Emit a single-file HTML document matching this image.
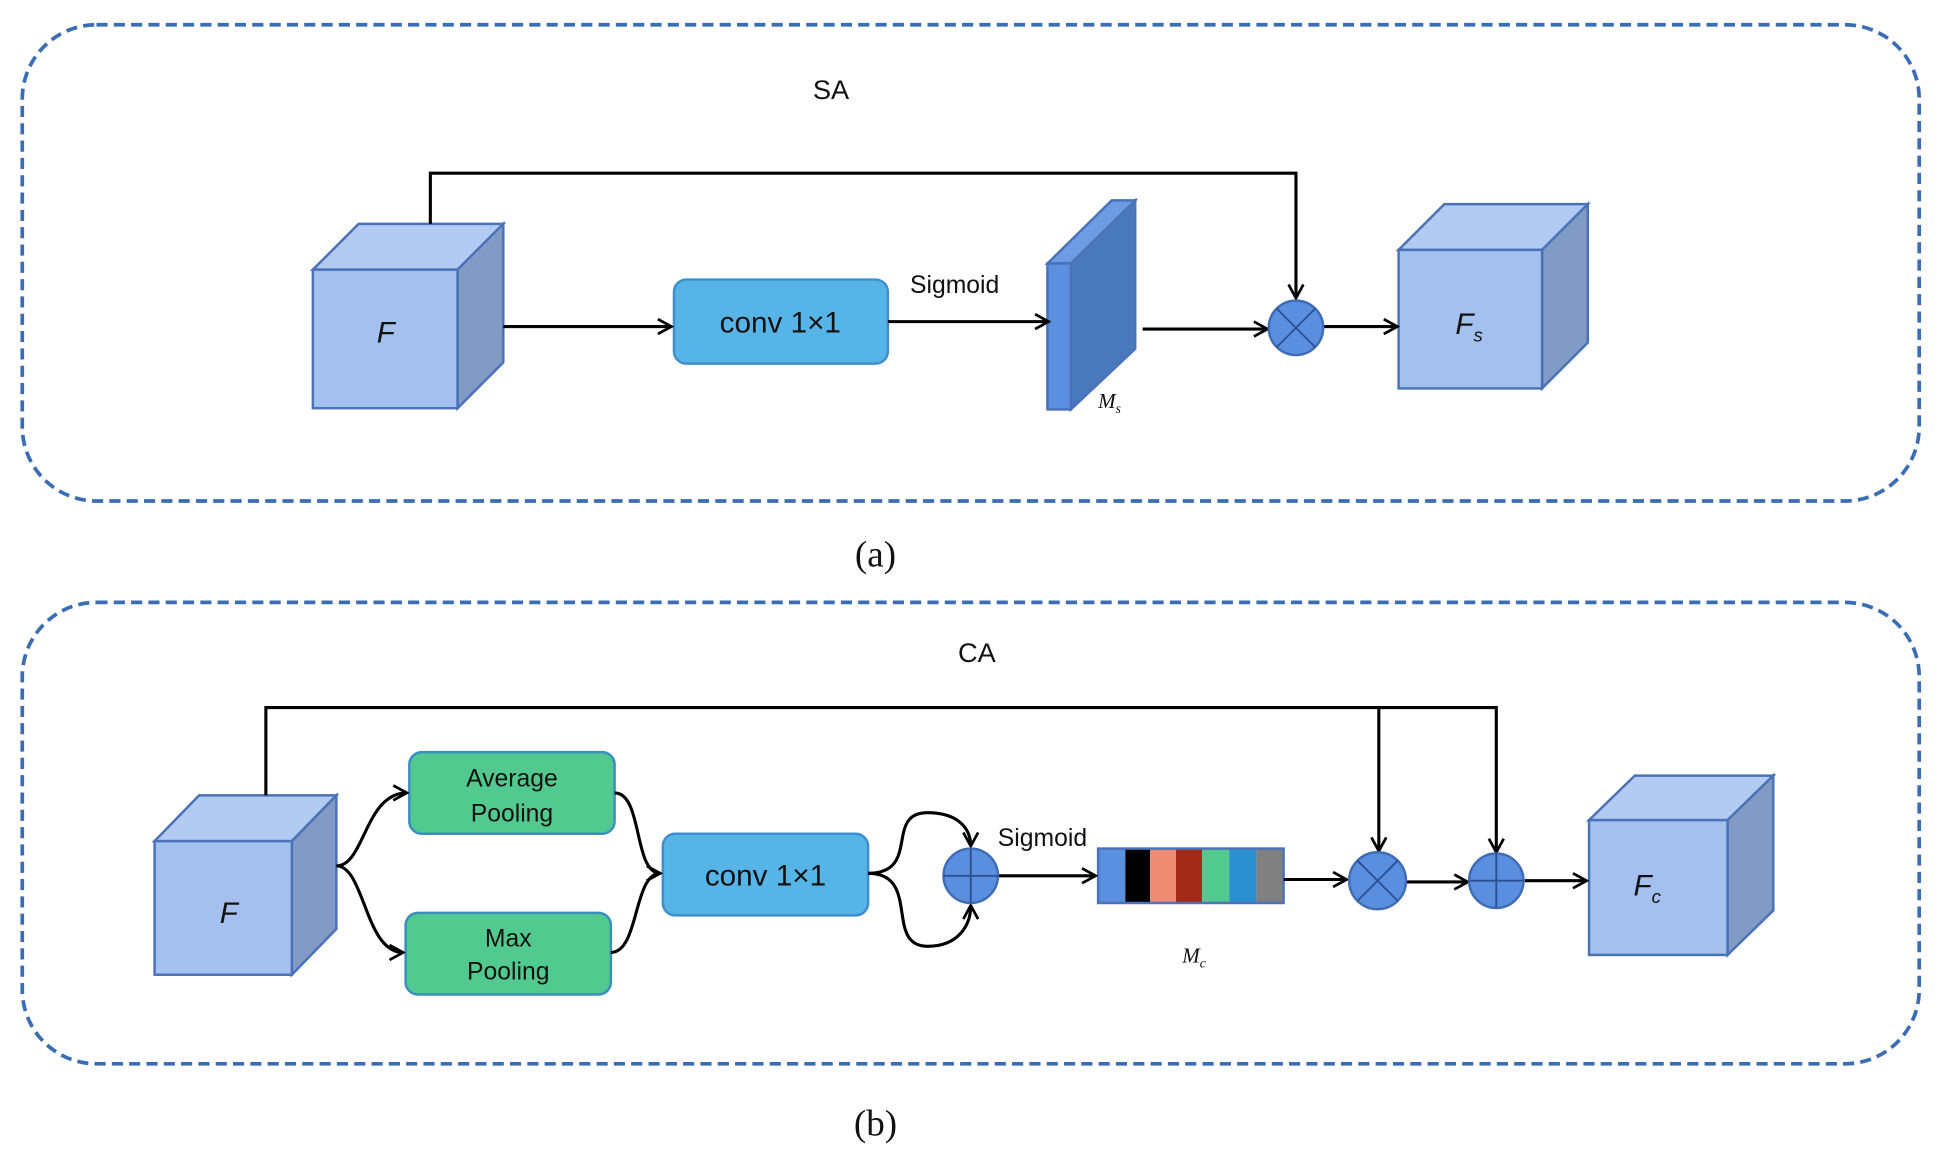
<!DOCTYPE html>
<html><head><meta charset="utf-8"><style>html,body{margin:0;padding:0;background:#fff}svg{display:block}</style></head><body>
<svg width="1939" height="1164" viewBox="0 0 1568 941" preserveAspectRatio="none" xmlns="http://www.w3.org/2000/svg" font-family="Liberation Sans, sans-serif">
<defs>
<marker id="ar" markerWidth="14" markerHeight="14" refX="12" refY="7" orient="auto" markerUnits="userSpaceOnUse">
<path d="M1,1 L12,7 L1,13" fill="none" stroke="#000" stroke-width="2.2"/>
</marker>
</defs>
<g fill="none" stroke="#3b6db5" stroke-width="3" stroke-dasharray="9,5">
<rect x="18" y="20" width="1534" height="385" rx="60"/>
<rect x="18" y="487" width="1534" height="373" rx="60"/>
</g>
<g font-size="22" fill="#111" text-anchor="middle">
<text x="672" y="80">SA</text>
<text x="790" y="535">CA</text>
</g>
<g font-family="Liberation Serif, serif" font-size="30" text-anchor="middle" fill="#111">
<text x="708" y="458">(a)</text>
<text x="708" y="918">(b)</text>
</g>
<!-- cubes -->
<g stroke="#4a72b8" stroke-width="2">
<polygon points="253,218 290,181 407,181 370,218" fill="#b3cbf2"/>
<polygon points="370,218 407,181 407,293 370,330" fill="#819bc4"/>
<rect x="253" y="218" width="117" height="112" fill="#a3c0ef"/>
<polygon points="1131,202 1168,165 1284,165 1247,202" fill="#b3cbf2"/>
<polygon points="1247,202 1284,165 1284,277 1247,314" fill="#819bc4"/>
<rect x="1131" y="202" width="116" height="112" fill="#a3c0ef"/>
<polygon points="125,680 161,643 272,643 236,680" fill="#b3cbf2"/>
<polygon points="236,680 272,643 272,751 236,788" fill="#819bc4"/>
<rect x="125" y="680" width="111" height="108" fill="#a3c0ef"/>
<polygon points="1285,663 1322,627 1434,627 1397,663" fill="#b3cbf2"/>
<polygon points="1397,663 1434,627 1434,736 1397,772" fill="#819bc4"/>
<rect x="1285" y="663" width="112" height="109" fill="#a3c0ef"/>
<!-- Ms plate -->
<polygon points="847,213 899,162 918,162 866,213" fill="#6d9be4"/>
<polygon points="866,213 918,162 918,282 866,331" fill="#4a78bd"/>
<rect x="847" y="213" width="19" height="118" fill="#5b8fe0"/>
</g>
<g font-style="italic" font-size="24" fill="#111" text-anchor="middle">
<text x="312" y="277">F</text>
<text x="1188" y="270">F<tspan font-size="15" dy="6">s</tspan></text>
<text x="185" y="746">F</text>
<text x="1332" y="724">F<tspan font-size="15" dy="6">c</tspan></text>
</g>
<g font-family="Liberation Serif, serif" font-style="italic" font-size="17" fill="#111">
<text x="888" y="330">M<tspan font-size="11" dy="4">s</tspan></text>
<text x="956" y="778">M<tspan font-size="11" dy="4">c</tspan></text>
</g>
<!-- boxes -->
<rect x="545" y="226" width="173" height="68" rx="10" fill="#56b4e6" stroke="#3f8fce" stroke-width="2"/>
<rect x="536" y="674" width="166" height="66" rx="10" fill="#56b4e6" stroke="#3f8fce" stroke-width="2"/>
<rect x="331" y="608" width="166" height="66" rx="10" fill="#52c98f" stroke="#3b8fbf" stroke-width="2"/>
<rect x="328" y="738" width="166" height="66" rx="10" fill="#52c98f" stroke="#3b8fbf" stroke-width="2"/>
<g font-size="24" fill="#111" text-anchor="middle">
<text x="631" y="269">conv 1×1</text>
<text x="619" y="716">conv 1×1</text>
</g>
<g font-size="20" fill="#111" text-anchor="middle">
<text x="414" y="636">Average</text><text x="414" y="664">Pooling</text>
<text x="411" y="765">Max</text><text x="411" y="792">Pooling</text>
<text x="772" y="237">Sigmoid</text>
<text x="843" y="684">Sigmoid</text>
</g>
<!-- bar -->
<rect x="888" y="686" width="22" height="44" fill="#5b8fe0"/>
<rect x="910" y="686" width="20" height="44" fill="#000"/>
<rect x="930" y="686" width="21" height="44" fill="#ef8a73"/>
<rect x="951" y="686" width="21" height="44" fill="#a22a16"/>
<rect x="972" y="686" width="22" height="44" fill="#52c98f"/>
<rect x="994" y="686" width="22" height="44" fill="#2a90d0"/>
<rect x="1016" y="686" width="22" height="44" fill="#808080"/>
<rect x="888" y="686" width="150" height="44" fill="none" stroke="#4a72b8" stroke-width="2"/>
<!-- arrows -->
<g fill="none" stroke="#000" stroke-width="2.5">
<path d="M348,181 V140 H1048 V241" marker-end="url(#ar)"/>
<path d="M407,264 H543" marker-end="url(#ar)"/>
<path d="M718,260 H848" marker-end="url(#ar)"/>
<path d="M924,266 H1025" marker-end="url(#ar)"/>
<path d="M1070,264 H1130" marker-end="url(#ar)"/>
<path d="M215,643 V572 H1210 V689" marker-end="url(#ar)"/>
<path d="M1115,572 V688" marker-end="url(#ar)"/>
<path d="M272,700 C295,700 295,641 329,641" marker-end="url(#ar)"/>
<path d="M272,700 C295,700 295,770 326,770" marker-end="url(#ar)"/>
<path d="M497,641 C520,641 512,706 534,706" marker-end="url(#ar)"/>
<path d="M494,770 C517,770 512,706 534,706"/>
<path d="M702,706 C745,706 715,657 750,657 C775,657 785,670 785,684" marker-end="url(#ar)"/>
<path d="M702,706 C745,706 715,765 750,765 C775,765 785,748 785,732" marker-end="url(#ar)"/>
<path d="M807,708 H886" marker-end="url(#ar)"/>
<path d="M1038,711 H1089" marker-end="url(#ar)"/>
<path d="M1137,713 H1187" marker-end="url(#ar)"/>
<path d="M1233,712 H1283" marker-end="url(#ar)"/>
</g>
<!-- circles -->
<g fill="#5a8fe0" stroke="#3f6cb5" stroke-width="2">
<circle cx="1048" cy="265" r="22"/>
<circle cx="785" cy="708" r="22"/>
<circle cx="1114" cy="712" r="23"/>
<circle cx="1210" cy="712" r="22"/>
</g>
<g stroke="#2b4f8f" stroke-width="1.5">
<path d="M1032.4,249.4 L1063.6,280.6 M1063.6,249.4 L1032.4,280.6"/>
<path d="M763,708 H807 M785,686 V730"/>
<path d="M1097.7,695.7 L1130.3,728.3 M1130.3,695.7 L1097.7,728.3"/>
<path d="M1188,712 H1232 M1210,690 V734"/>
</g>
</svg>
</body></html>
